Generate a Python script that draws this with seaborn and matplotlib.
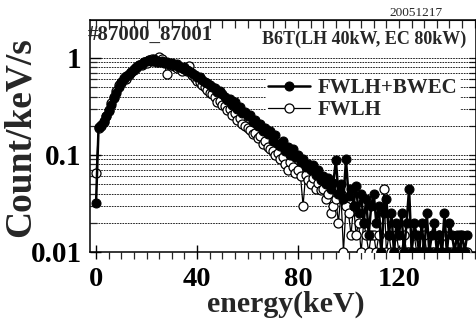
import matplotlib
matplotlib.use("Agg")
import matplotlib.pyplot as plt
import seaborn as sns
from matplotlib.ticker import FixedLocator, MultipleLocator, NullFormatter, FixedFormatter

# Energy bins (keV) and count rates (Count/keV/s) for the two heating scenarios
energy = list(range(148))

fwlh_bwec = [
    0.032, 0.195, 0.205, 0.225, 0.255, 0.285, 0.33, 0.39, 0.44, 0.50,
    0.56, 0.61, 0.65, 0.69, 0.72, 0.76, 0.80, 0.84, 0.87, 0.90,
    0.93, 0.96, 0.92, 0.97, 0.93, 0.90, 0.94, 0.88, 0.91, 0.86,
    0.88, 0.84, 0.86, 0.80, 0.78, 0.81, 0.75, 0.73, 0.70, 0.67,
    0.64, 0.63, 0.59, 0.57, 0.55, 0.52, 0.50, 0.49, 0.45, 0.46,
    0.42, 0.40, 0.37, 0.38, 0.33, 0.35, 0.30, 0.31, 0.27, 0.28,
    0.25, 0.26, 0.22, 0.23, 0.20, 0.21, 0.175, 0.19, 0.165, 0.175,
    0.14, 0.16, 0.13, 0.125, 0.14, 0.11, 0.12, 0.10, 0.115, 0.095,
    0.10, 0.085, 0.09, 0.075, 0.08, 0.07, 0.078, 0.062, 0.07, 0.055,
    0.06, 0.05, 0.058, 0.045, 0.052, 0.088, 0.04, 0.05, 0.035, 0.09,
    0.038, 0.045, 0.03, 0.048, 0.025, 0.04, 0.02, 0.035, 0.015, 0.03,
    0.04, 0.02, 0.03, 0.01, 0.025, 0.035, 0.015, 0.025, 0.01, 0.02,
    0.015, 0.025, 0.01, 0.02, 0.045, 0.01, 0.02, 0.015, 0.01, 0.02,
    0.01, 0.025, 0.01, 0.015, 0.02, 0.01, 0.015, 0.01, 0.025, 0.01,
    0.02, 0.015, 0.01, 0.015, 0.01, 0.015, 0.01, 0.015,
]

fwlh = [
    0.065, 0.19, 0.20, 0.22, 0.25, 0.29, 0.34, 0.40, 0.46, 0.52,
    0.55, 0.62, 0.60, 0.67, 0.72, 0.75, 0.79, 0.85, 0.84, 0.91,
    0.88, 0.95, 0.98, 0.92, 0.90, 1.02, 0.97, 0.90, 0.68, 0.86,
    0.84, 0.82, 0.79, 0.80, 0.74, 0.76, 0.74, 0.83, 0.66, 0.62,
    0.58, 0.57, 0.52, 0.50, 0.47, 0.44, 0.42, 0.40, 0.35, 0.36,
    0.33, 0.32, 0.29, 0.30, 0.26, 0.27, 0.23, 0.24, 0.21, 0.20,
    0.19, 0.18, 0.165, 0.17, 0.15, 0.155, 0.13, 0.14, 0.12, 0.115,
    0.11, 0.10, 0.105, 0.09, 0.095, 0.08, 0.07, 0.085, 0.075, 0.065,
    0.07, 0.06, 0.03, 0.062, 0.055, 0.05, 0.058, 0.045, 0.052, 0.044,
    0.045, 0.035, 0.04, 0.025, 0.03, 0.035, 0.02, 0.04, 0.01, 0.03,
    0.025, 0.015, 0.03, 0.015, 0.02, 0.01, 0.02, 0.015, 0.01, 0.015,
    0.015, 0.01, 0.015, 0.01, 0.045, 0.01, 0.015, 0.01, 0.01, 0.015,
    0.01, 0.01, 0.015, 0.01, 0.01, 0.01, 0.015, 0.01, 0.01, 0.01,
    0.015, 0.01, 0.01, 0.01, 0.01, 0.01, 0.015, 0.01, 0.015, 0.01,
    0.01, 0.01, 0.01, 0.01, 0.015, 0.01, 0.01, 0.01,
]

series_labels = ["FWLH+BWEC", "FWLH"]
x_ticks = [0, 40, 80, 120]
y_ticks = [0.01, 0.1, 1]
y_tick_labels = ["0.01", "0.1", "1"]
y_grid_minor = [m * d for d in (0.01, 0.1) for m in range(2, 10)]

sns.set_style("ticks")
plt.rcParams["font.family"] = ["Liberation Serif", "DejaVu Serif"]
plt.rcParams["font.weight"] = "bold"

W, H = 477, 323
fig = plt.figure(figsize=(W / 100, H / 100), dpi=100)
ax = fig.add_axes([90 / W, 1 - 252 / H, (476 - 90) / W, (252 - 20) / H])

sns.lineplot(x=energy, y=fwlh, ax=ax, estimator=None, sort=False,
             color="black", linewidth=0.9, marker="o", markersize=6.5,
             markerfacecolor="white", markeredgecolor="black",
             markeredgewidth=0.9, label=series_labels[1], zorder=3)
sns.lineplot(x=energy, y=fwlh_bwec, ax=ax, estimator=None, sort=False,
             color="black", linewidth=1.8, marker="o", markersize=6.5,
             markerfacecolor="black", markeredgecolor="black",
             label=series_labels[0], zorder=4)

ax.set_yscale("log")
ax.set_xlim(-2.4, 150.5)
ax.set_ylim(0.01, 2.46)

# Log-decade grid with dashed lines at every minor step
ax.yaxis.set_major_locator(FixedLocator(y_ticks))
ax.yaxis.set_major_formatter(FixedFormatter(y_tick_labels))
ax.yaxis.set_minor_locator(FixedLocator(y_grid_minor))
ax.yaxis.set_minor_formatter(NullFormatter())
ax.grid(False)
ax.yaxis.grid(True, which="both", color="black", linestyle=(0, (2, 1.2)),
              linewidth=0.6)
ax.set_axisbelow(True)

ax.xaxis.set_major_locator(FixedLocator(x_ticks))
ax.xaxis.set_minor_locator(MultipleLocator(5))

for s in ax.spines.values():
    s.set_linewidth(1.1)
    s.set_color("black")

ax.tick_params(axis="x", which="major", direction="inout", length=10,
               width=1.0, labelsize=20.5, pad=6, colors="black")
ax.tick_params(axis="x", which="minor", direction="out", length=5, width=0.9)
ax.tick_params(axis="y", which="major", direction="in", length=8, width=1.0,
               labelsize=21, pad=6, colors="black")
ax.tick_params(axis="y", which="minor", direction="in", length=5, width=0.9)

# Inward ticks on the top and right frames
top = ax.secondary_xaxis("top")
top.xaxis.set_major_locator(MultipleLocator(5))
top.xaxis.set_major_formatter(NullFormatter())
top.tick_params(direction="in", length=6, width=0.9)
right = ax.secondary_yaxis("right")
right.yaxis.set_major_locator(FixedLocator(y_ticks + y_grid_minor))
right.yaxis.set_major_formatter(NullFormatter())
right.yaxis.set_minor_locator(FixedLocator([]))
right.tick_params(direction="in", length=5, width=0.9)

ax.set_xlabel("energy(keV)", fontsize=21.5, fontweight="bold")
ax.xaxis.set_label_coords((286 - 90) / 386, (252 - 291) / 232)
ax.set_ylabel("Count/keV/s", fontsize=27, fontweight="bold")
ax.yaxis.set_label_coords((38 - 90) / 386, (252 - 137) / 232)

handles, labels = ax.get_legend_handles_labels()
order = [labels.index(l) for l in series_labels]
leg = ax.legend([handles[i] for i in order], [labels[i] for i in order],
                loc="upper left", bbox_to_anchor=((266 - 90) / 386, 1 - (76 - 20) / 232),
                prop={"family": "Liberation Serif", "weight": "bold", "size": 15},
                frameon=True, facecolor="white", edgecolor="none", framealpha=1,
                fancybox=False, borderpad=0.1, borderaxespad=0, handlelength=2.0,
                handletextpad=0.4, labelspacing=0.1)
leg.set_zorder(5)

fig.text(88 / W, 1 - 35 / H, "#87000_87001", fontsize=15, fontweight="bold",
         ha="left", va="center")
fig.text(262 / W, 1 - 39 / H, "B6T(LH 40kW, EC 80kW)", fontsize=13,
         fontweight="bold", ha="left", va="center")
fig.text(416 / W, 1 - 12.5 / H, "20051217", fontsize=9.5, fontweight="normal",
         ha="center", va="center")

fig.savefig("out.png", dpi=100)
